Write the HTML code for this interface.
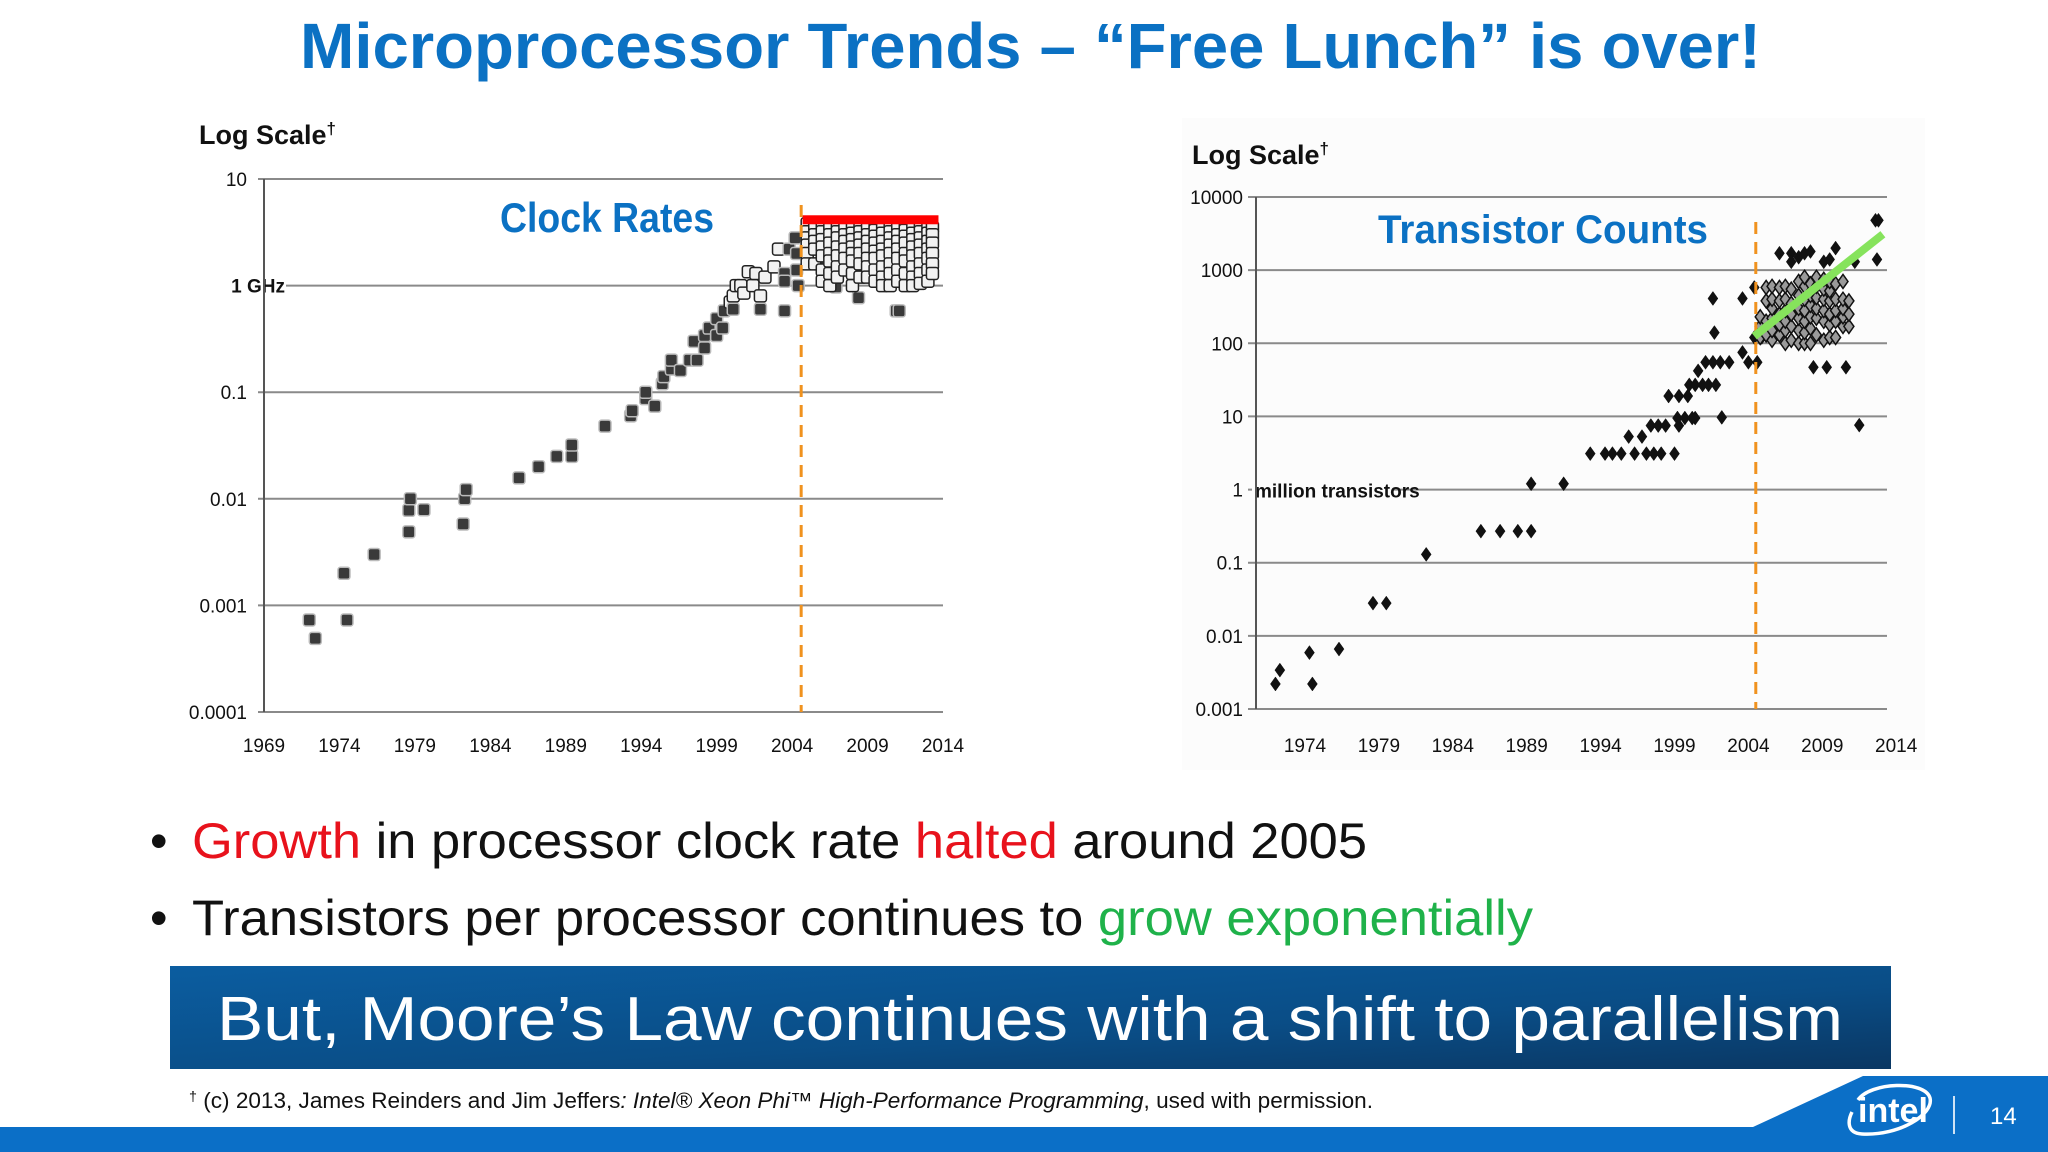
<!DOCTYPE html>
<html><head><meta charset="utf-8"><style>
html,body{margin:0;padding:0;background:#fff;}
svg{display:block;}
text{font-family:"Liberation Sans",sans-serif;}
.tick{font-family:"Liberation Sans Narrow","Liberation Sans",sans-serif;font-size:19px;fill:#111;}
</style></head><body>
<svg id="s" width="2048" height="1152" viewBox="0 0 2048 1152" xmlns="http://www.w3.org/2000/svg">
<defs>
<linearGradient id="bg" x1="0" y1="0" x2="1" y2="1">
<stop offset="0" stop-color="#0b5da0"/><stop offset="0.6" stop-color="#0a4d86"/><stop offset="1" stop-color="#0a3763"/>
</linearGradient>
</defs>
<text x="300" y="68" font-size="64" font-weight="bold" fill="#0b71c3" textLength="1461" lengthAdjust="spacingAndGlyphs">Microprocessor Trends – “Free Lunch” is over!</text>

<rect x="1182" y="118" width="743" height="652" fill="#fcfcfc"/>

<g id="left"></g>
<g id="right"></g>

<text x="150" y="858" font-size="50" fill="#111">•</text>
<text x="192" y="858" font-size="50" fill="#111" textLength="1175" lengthAdjust="spacingAndGlyphs"><tspan fill="#e8121c">Growth</tspan> in processor clock rate <tspan fill="#e8121c">halted</tspan> around 2005</text>
<text x="150" y="935" font-size="50" fill="#111">•</text>
<text x="192" y="935" font-size="50" fill="#111" textLength="1341" lengthAdjust="spacingAndGlyphs">Transistors per processor continues to <tspan fill="#1fb24a">grow exponentially</tspan></text>

<rect x="170" y="966" width="1721" height="103" fill="url(#bg)"/>
<text x="217" y="1040" font-size="62" fill="#fff" textLength="1626" lengthAdjust="spacingAndGlyphs">But, Moore’s Law continues with a shift to parallelism</text>

<text x="189" y="1108" font-size="22" fill="#111" textLength="1184" lengthAdjust="spacingAndGlyphs"><tspan font-size="14" dy="-7">†</tspan><tspan dy="7"> (c) 2013, James Reinders and Jim Jeffers</tspan><tspan font-style="italic">: Intel® Xeon Phi™ High-Performance Programming</tspan>, used with permission.</text>

<path d="M0,1127 L1753,1127 L1863,1076 L2048,1076 L2048,1152 L0,1152 Z" fill="#0b6fc7"/>
<g>
<path d="M1858,1100 C1870,1082 1925,1080 1930,1098 C1934,1114 1900,1136 1862,1134 C1846,1133 1848,1120 1852,1112" fill="none" stroke="#fff" stroke-width="3.5"/>
<text x="1858" y="1122" font-size="34" font-weight="bold" fill="#fff">intel</text>
</g>
<rect x="1953" y="1096" width="2" height="38" fill="#cfe3f5"/>
<text x="1990" y="1124" font-size="24" fill="#fff">14</text>
</svg>
<script>
// ---- Clock rates data (GHz) ----
const clockYears = [1972.0,1972.4,1974.3,1974.5,1976.3,1978.6,1978.6,1978.7,1979.6,1982.2,1982.3,1982.4,1985.9,1987.2,1988.4,1989.4,1989.4,1991.6,1993.3,1993.4,1994.3,1994.3,1994.9,1995.4,1995.5,1996.0,1996.0,1996.6,1997.2,1997.7,1997.5,1998.2,1998.2,1998.5,1999.0,1999.0,1999.4,1999.5,1999.9,2000.1,2000.3,2000.1,2000.6,2000.8,2001.1,2001.4,2001.6,2001.9,2001.9,2002.2,2002.8,2003.1,2003.5,2003.5,2003.5,2003.8,2004.2,2004.3,2004.3,2004.4,2005.7,2006.4,2006.9,2008.4,2010.9,2011.1];
const clockVals  = [0.00073,0.00049,0.002,0.00073,0.003,0.0049,0.0078,0.01,0.0079,0.0058,0.01,0.0122,0.0157,0.02,0.025,0.025,0.032,0.048,0.06,0.067,0.087,0.1,0.074,0.12,0.14,0.165,0.2,0.16,0.2,0.2,0.3,0.26,0.34,0.4,0.34,0.49,0.4,0.58,0.7,0.8,1.0,0.6,1.0,0.85,1.35,1.0,1.3,0.8,0.6,1.2,1.5,2.2,1.3,1.1,0.58,2.2,2.8,2.0,1.4,1.0,1.6,1.1,0.97,0.77,0.58,0.58];
const clockClusterYears = [2005.0,2005.5,2006.0,2006.5,2007.0,2007.5,2008.0,2008.5,2009.0,2009.5,2010.0,2010.5,2011.0,2011.5,2012.0,2012.5,2013.0,2013.3];
const clockClusterVals = [
 [3.8,3.2,2.8,2.4,2.0,1.6],[3.6,3.0,2.6,2.2,1.6],[3.7,3.2,2.7,2.3,1.9,1.4,1.1],[3.6,3.0,2.5,2.0,1.7,1.3,1.0],
 [3.8,3.2,2.8,2.3,1.9,1.5,1.2],[3.5,3.0,2.6,2.2,1.8,1.4],[3.6,3.1,2.7,2.3,2.0,1.7,1.3,1.0],[3.7,3.2,2.8,2.4,2.0,1.6,1.2],
 [3.6,3.0,2.6,2.2,1.8,1.5,1.2],[3.8,3.3,2.9,2.5,2.1,1.8,1.4,1.1],[3.6,3.1,2.6,2.2,1.9,1.5,1.2,1.0],[3.7,3.2,2.8,2.4,2.0,1.6,1.3,1.0],
 [3.6,3.0,2.6,2.2,1.8,1.4,1.1],[3.8,3.3,2.9,2.5,2.0,1.7,1.3,1.0],[3.6,3.1,2.7,2.3,1.9,1.5,1.2,1.0],[3.7,3.2,2.8,2.4,2.0,1.6,1.3,1.05],
 [3.6,3.1,2.6,2.2,1.8,1.4,1.1],[3.5,3.0,2.5,2.0,1.6,1.3]];
const clockYTicks = [10,1,0.1,0.01,0.001,0.0001];
const clockYLabels = ["10","1 GHz","0.1","0.01","0.001","0.0001"];
const clockXTicks = [1969,1974,1979,1984,1989,1994,1999,2004,2009,2014];
const clockHaltYear = 2004.6;
const clockCeiling = [2004.7, 2013.7, 4.1];

// ---- Transistor counts data (millions) ----
const transYears = [1972.0,1972.3,1974.3,1974.5,1976.3,1978.6,1979.5,1982.2,1985.9,1987.2,1988.4,1989.3,1989.3,1991.5,1993.3,1994.3,1994.8,1995.4,1996.3,1997.1,1997.6,1998.1,1999.0,1995.9,1996.8,1997.4,1997.9,1998.4,1999.3,1998.6,1999.3,1999.9,1999.2,1999.7,2000.2,2000.4,2000.0,2000.4,2000.9,2001.3,2001.8,2000.6,2001.1,2001.6,2002.1,2002.7,2001.6,2001.7,2002.2,2003.6,2003.6,2004.0,2004.6,2004.4,2004.4,2004.9,2008.4,2009.3,2010.6,2011.5,2012.6,2012.8,2012.7];
const transVals  = [0.0022,0.0034,0.0059,0.0022,0.0066,0.028,0.028,0.13,0.27,0.27,0.27,0.27,1.2,1.2,3.1,3.1,3.1,3.1,3.1,3.1,3.1,3.1,3.1,5.3,5.3,7.5,7.5,7.5,7.5,19,19,19,9.5,9.5,9.5,9.5,27,27,27,27,27,42,55,55,55,55,410,140,9.7,410,75,55,55,580,120,120,47,47,47,7.6,4800,4800,1400];
const transClusterYears = [2004.8,2005.2,2005.6,2006.1,2006.5,2006.9,2007.4,2007.8,2008.2,2008.6,2009.1,2009.5,2009.9,2010.4,2010.8,2011.2];
const transClusterVals = [
 [120,170,230],[130,200,380,580],[110,150,220,300,400,600],[130,180,250,380,580,1700],
 [100,150,200,280,400,600],[110,170,250,350,550,1700,1300],[100,150,220,300,450,700,1500],[100,140,200,280,400,600,800,1700],
 [100,160,230,330,450,650,1800],[130,220,300,420,600,800],[110,200,280,400,550,750,1300],[120,180,250,380,520,700,1400],
 [120,200,280,400,650,2000],[170,230,300,400,700],[170,250,380],[1300]];
const transYTicks = [10000,1000,100,10,1,0.1,0.01,0.001];
const transYLabels = ["10000","1000","100","10","1","0.1","0.01","0.001"];
const transXTicks = [1974,1979,1984,1989,1994,1999,2004,2009,2014];
const transHaltYear = 2004.5;
const transTrend = [2004.4, 125, 2013.1, 3100];

const NS = "http://www.w3.org/2000/svg";
function mk(parent, tag, attrs){ const e=document.createElementNS(NS,tag); for(const k in attrs) e.setAttribute(k,attrs[k]); parent.appendChild(e); return e; }

const lx = y => 264 + (y-1969)*(943-264)/45;
const ly = v => 179 + (1-Math.log10(v))*(712-179)/5;
const rx = y => 1305 + (y-1974)*14.78;
const ry = v => 197 + (4-Math.log10(v))*(709-197)/7;

const L = document.getElementById('left');
const R = document.getElementById('right');

// ---- Left chart ----
let t = mk(L,'text',{x:199,y:144,'font-size':27,'font-weight':'bold',fill:'#111'});
t.textContent='Log Scale';


let d = mk(t,'tspan',{'font-size':17,dy:-10}); d.textContent='†';
clockYTicks.forEach((v,i)=>{
  const g = mk(L,'line',{x1:258,x2:943,y1:ly(v),y2:ly(v),stroke:'#8a8a8a','stroke-width':2});
  
  
  const lab = mk(L,'text',{class:'tick',x: i===1?285:247, y:ly(v)+7,'text-anchor':'end','font-size':i===1?17:19});
  if(i===1){ lab.setAttribute('font-weight','bold'); mk(L,'rect',{x:236,y:ly(v)-11,width:50,height:20,fill:'#fff'}); L.appendChild(lab); }
  lab.textContent = clockYLabels[i];
  
  
});
let ax = mk(L,'line',{x1:264,x2:264,y1:179,y2:712,stroke:'#555','stroke-width':2});


clockXTicks.forEach(y=>{
  const lab = mk(L,'text',{class:'tick',x:lx(y),y:752,'text-anchor':'middle','font-size':21});
  lab.textContent = y;
  
  
});
t = mk(L,'text',{x:607,y:232,'font-size':42,'font-weight':'bold',fill:'#0b71c3','text-anchor':'middle',textLength:214,lengthAdjust:'spacingAndGlyphs'});
t.textContent='Clock Rates';


function sq(x,y,light){
  const r = mk(L,'rect',{x:x-6,y:y-6,width:12,height:12,rx:2.5,fill:light?'#f2f2f2':'#3a3a3a',stroke:light?'#222':'#bbb','stroke-width':1.5});
  
  
}
clockYears.forEach((y,i)=> sq(lx(y), ly(clockVals[i]), y>1995.3 && clockVals[i]>0.6 && y<2003.2));
clockClusterYears.forEach((y,i)=> clockClusterVals[i].forEach(v=> sq(lx(y), ly(v), true)));
let dl = mk(L,'line',{x1:lx(clockHaltYear),x2:lx(clockHaltYear),y1:205,y2:712,stroke:'#f0921e','stroke-width':3,'stroke-dasharray':'12,8'});


let rb = mk(L,'rect',{x:lx(clockCeiling[0]),y:ly(clockCeiling[2])-5,width:lx(clockCeiling[1])-lx(clockCeiling[0]),height:9,fill:'#f00'});



// ---- Right chart ----
t = mk(R,'text',{x:1192,y:164,'font-size':27,'font-weight':'bold',fill:'#111'});
t.textContent='Log Scale';


d = mk(t,'tspan',{'font-size':17,dy:-10}); d.textContent='†';
transYTicks.forEach((v,i)=>{
  const g = mk(R,'line',{x1:1248,x2:1887,y1:ry(v),y2:ry(v),stroke:'#8a8a8a','stroke-width':2});
  
  
  const lab = mk(R,'text',{class:'tick',x:1243,y:ry(v)+7,'text-anchor':'end','font-size':18});
  lab.textContent = transYLabels[i];
  
  
});
mk(R,'rect',{x:1252,y:ry(1)-12,width:140,height:24,fill:'#fcfcfc'});
let ml = mk(R,'text',{class:'tick',x:1255,y:ry(1)+8,'font-size':18,'font-weight':'bold'});
ml.textContent='million transistors';


ax = mk(R,'line',{x1:1256,x2:1256,y1:197,y2:709,stroke:'#555','stroke-width':2});


transXTicks.forEach(y=>{
  const lab = mk(R,'text',{class:'tick',x:rx(y),y:752,'text-anchor':'middle','font-size':21});
  lab.textContent = y;
  
  
});
t = mk(R,'text',{x:1378,y:243,'font-size':40,'font-weight':'bold',fill:'#0b71c3',textLength:330,lengthAdjust:'spacingAndGlyphs'});
t.textContent='Transistor Counts';


function dia(x,y,light){
  const p = mk(R,'path',{d:`M${x},${y-7} L${x+5},${y} L${x},${y+7} L${x-5},${y} Z`,fill:light?'#9a9a9a':'#111',stroke:'#111','stroke-width':light?1.5:0.5});
  
  
}
transYears.forEach((y,i)=> dia(rx(y), ry(transVals[i]), false));
transClusterYears.forEach((y,i)=> transClusterVals[i].forEach(v=> dia(rx(y), ry(v), v<1200)));
dl = mk(R,'line',{x1:rx(transHaltYear),x2:rx(transHaltYear),y1:222,y2:709,stroke:'#f0921e','stroke-width':3,'stroke-dasharray':'12,8'});


let tl = mk(R,'line',{x1:rx(transTrend[0]),y1:ry(transTrend[1]),x2:rx(transTrend[2]),y2:ry(transTrend[3]),stroke:'#86e35c','stroke-width':8});


</script>
</body></html>
